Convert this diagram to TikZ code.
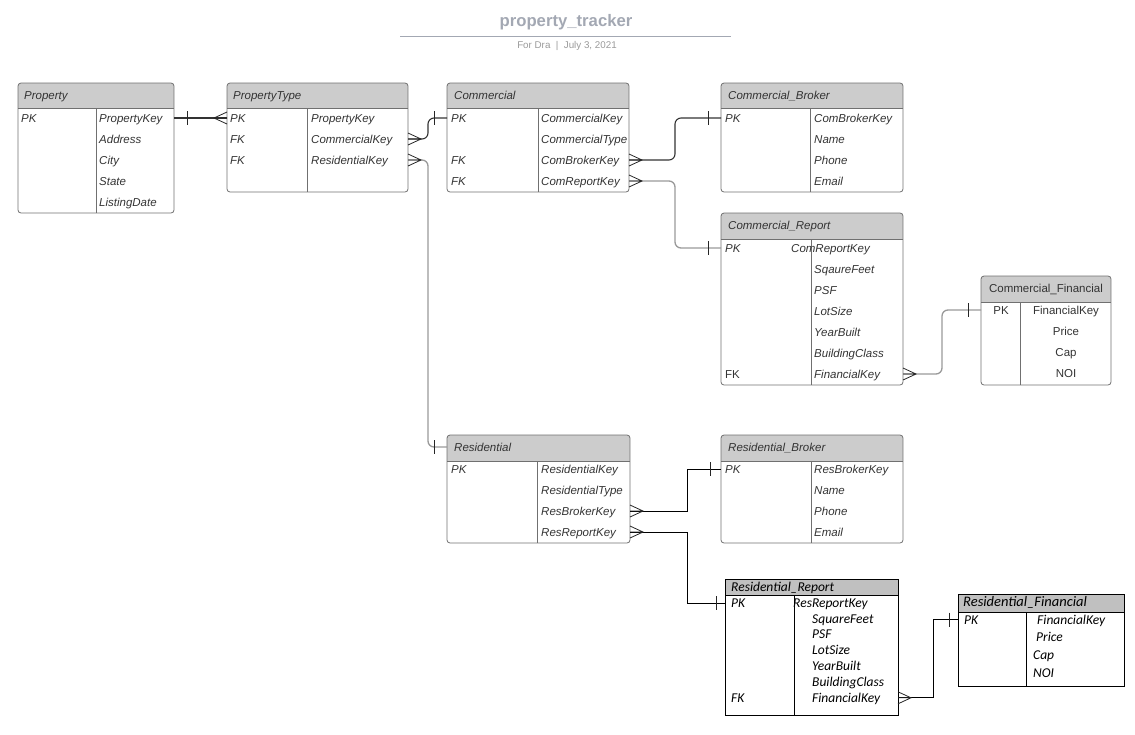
\documentclass[tikz,border=0pt]{standalone}
\usepackage{fontspec}
\setmainfont{Liberation Sans}
\newfontfamily\calfont{Carlito}
\usetikzlibrary{calc}

\definecolor{boxgray}{HTML}{707070}
\definecolor{hdrlucid}{HTML}{CCCCCC}
\definecolor{hdrplain}{HTML}{C0C0C0}
\definecolor{txtgray}{HTML}{333333}
\definecolor{titlegray}{HTML}{A3A8B3}
\definecolor{subgray}{HTML}{9A9A9A}

% one table: style, name, top left, width, height, header height, divider offset, header colour
\newcommand{\ertable}[8]{%
  \node[tblbase, minimum width=#4pt, minimum height=#5pt] (#2) at #3 {};
  \begin{scope}
    \clip[#1clip] (#2.north west) rectangle (#2.south east);
    \fill[#8] (#2.north west) rectangle ([yshift=-#6pt]#2.north east);
  \end{scope}
  \draw[#1] ([yshift=-#6pt]#2.north west) -- ([yshift=-#6pt]#2.north east);
  \draw[#1] ([shift={(#7pt,-#6pt)}]#2.north west) -- ([xshift=#7pt]#2.south west);
  \draw[#1] (#2.north west) rectangle (#2.south east);
}

\begin{document}
\begin{tikzpicture}[x=1pt,y=-1pt]
  \tikzset{tblbase/.style={rectangle, anchor=north west, inner sep=0pt, outer sep=0pt}}
  \tikzset{lucid/.style={draw=boxgray, line width=0.8pt, rounded corners=3pt}}
  \tikzset{lucidclip/.style={rounded corners=3pt}}
  \tikzset{plain/.style={draw=black, line width=0.8pt}}
  \tikzset{plainclip/.style={sharp corners}}
  \tikzset{fld/.style={font={\fontsize{11.5}{13}\selectfont\itshape}, text=txtgray, anchor=west, inner sep=0pt, text height=8.2pt, text depth=0pt}}
  \tikzset{upfld/.style={fld, font={\fontsize{11.5}{13}\selectfont}}}
  \tikzset{cfld/.style={fld, text=black, text height=8.7pt, font={\calfont\itshape\fontsize{13.5}{15}\selectfont}}}
  \tikzset{rel/.style={draw=black!80, line width=1.1pt, rounded corners=6pt}}
  \tikzset{relgray/.style={rel, draw=black!40, line width=1.3pt}}
  \tikzset{relsharp/.style={draw=black, line width=1pt}}
  \tikzset{pics/crowfoot/.style={code={\draw[black!85, line width=0.8pt] (0,-6) -- (13,0) -- (0,6) (0,0) -- (13,0);}}}
  \tikzset{pics/onebar/.style={code={\draw[black!85, line width=0.8pt] (0,-7) -- (0,7);}}}
  \useasboundingbox (0,0) rectangle (1135,734);

  % title
  \node[font={\fontsize{16.7}{18}\selectfont\bfseries}, text=titlegray] (title) at (566,22) {property\_tracker};
  \draw[titlegray, line width=0.8pt] (400,36) -- (731,36);
  \node[font={\fontsize{9.8}{11}\selectfont}, text=subgray] (sub) at (567,46) {For Dra \;|\; July 3, 2021};

  % tables
  \ertable{lucid}{prop}{(18,83)}{156}{130}{25}{78}{hdrlucid}
  \ertable{lucid}{ptype}{(227,83)}{181}{109}{25}{80}{hdrlucid}
  \ertable{lucid}{com}{(447,83)}{182}{109}{25}{91}{hdrlucid}
  \ertable{lucid}{cbrk}{(721,83)}{182}{109}{25}{89}{hdrlucid}
  \ertable{lucid}{crep}{(721,213)}{182}{172}{26}{90}{hdrlucid}
  \ertable{lucid}{cfin}{(981,276)}{130}{109}{26}{39}{hdrlucid}
  \ertable{lucid}{res}{(447,435)}{183}{108}{26}{90}{hdrlucid}
  \ertable{lucid}{rbrk}{(721,435)}{182}{108}{26}{90}{hdrlucid}
  \ertable{plain}{rrep}{(725,579)}{173}{136}{16}{69}{hdrplain}
  \ertable{plain}{rfin}{(958,594)}{166}{92}{18}{68}{hdrplain}

  % Property
  \node[fld] (prop-t) at (24,95) {Property};
  \node[fld] (prop-pk) at (21,118) {PK};
  \foreach \f [count=\i] in {PropertyKey,Address,City,State,ListingDate}
    \node[fld] (prop-\i) at (99,97+21*\i) {\f};

  % PropertyType
  \node[fld] (ptype-t) at (233,95) {PropertyType};
  \node[fld] (ptype-pk) at (230,118) {PK};
  \node[fld] (ptype-fk1) at (230,139) {FK};
  \node[fld] (ptype-fk2) at (230,160) {FK};
  \foreach \f [count=\i] in {PropertyKey,CommercialKey,ResidentialKey}
    \node[fld] (ptype-\i) at (311,97+21*\i) {\f};

  % Commercial
  \node[fld] (com-t) at (454,95) {Commercial};
  \node[fld] (com-pk) at (451,118) {PK};
  \node[fld] (com-fk1) at (451,160) {FK};
  \node[fld] (com-fk2) at (451,181) {FK};
  \foreach \f [count=\i] in {CommercialKey,CommercialType,ComBrokerKey,ComReportKey}
    \node[fld] (com-\i) at (541,97+21*\i) {\f};

  % Commercial_Broker
  \node[fld] (cbrk-t) at (728,95) {Commercial\_Broker};
  \node[fld] (cbrk-pk) at (725,118) {PK};
  \foreach \f [count=\i] in {ComBrokerKey,Name,Phone,Email}
    \node[fld] (cbrk-\i) at (814,97+21*\i) {\f};

  % Commercial_Report
  \node[fld] (crep-t) at (728,225) {Commercial\_Report};
  \node[fld] (crep-pk) at (725,248) {PK};
  \node[upfld] (crep-fk) at (725,374) {FK};
  \node[fld] (crep-1) at (791,248) {ComReportKey};
  \foreach \f [count=\i from 2] in {SqaureFeet,PSF,LotSize,YearBuilt,BuildingClass,FinancialKey}
    \node[fld] (crep-\i) at (814,227+21*\i) {\f};

  % Commercial_Financial
  \node[upfld, anchor=center] (cfin-t) at (1046,288) {Commercial\_Financial};
  \node[upfld, anchor=center] (cfin-pk) at (1001,310) {PK};
  \foreach \f [count=\i] in {FinancialKey,Price,Cap,NOI}
    \node[upfld, anchor=center] (cfin-\i) at (1066,289+21*\i) {\f};

  % Residential
  \node[fld] (res-t) at (454,447) {Residential};
  \node[fld] (res-pk) at (451,469) {PK};
  \foreach \f [count=\i] in {ResidentialKey,ResidentialType,ResBrokerKey,ResReportKey}
    \node[fld] (res-\i) at (541,448+21*\i) {\f};

  % Residential_Broker
  \node[fld] (rbrk-t) at (728,447) {Residential\_Broker};
  \node[fld] (rbrk-pk) at (725,469) {PK};
  \foreach \f [count=\i] in {ResBrokerKey,Name,Phone,Email}
    \node[fld] (rbrk-\i) at (814,448+21*\i) {\f};

  % Residential_Report
  \node[cfld] (rrep-t) at (731,587) {Residential\_Report};
  \node[cfld] (rrep-pk) at (731,603) {PK};
  \node[cfld] (rrep-fk) at (731,698) {FK};
  \node[cfld] (rrep-1) at (793,603) {ResReportKey};
  \foreach \f [count=\i from 2] in {SquareFeet,PSF,LotSize,YearBuilt,BuildingClass,FinancialKey}
    \node[cfld] (rrep-\i) at (812,603+15.8*\i-15.8) {\f};

  % Residential_Financial
  \node[cfld, font={\calfont\itshape\fontsize{14.5}{16}\selectfont}] (rfin-t) at (963,602) {Residential\_Financial};
  \node[cfld] (rfin-pk) at (964,620) {PK};
  \foreach \f/\x [count=\i] in {FinancialKey/1037,Price/1036,Cap/1033,NOI/1033}
    \node[cfld] (rfin-\i) at (\x,602+17.7*\i) {\f};

  % relations
  \draw[rel] (prop.east |- prop-1) -- (ptype.west |- prop-1);
  \pic[xshift=13pt] at (prop.east |- prop-1) {onebar};
  \pic[rotate=180] at (ptype.west |- prop-1) {crowfoot};

  \draw[rel] (ptype.east |- ptype-2) -- ++(20,0) |- (com.west |- com-1);
  \pic at (ptype.east |- ptype-2) {crowfoot};
  \pic[xshift=-13pt] at (com.west |- com-1) {onebar};

  \draw[relgray] (ptype.east |- ptype-3) -- ++(20,0) |- (res.west |- res-t);
  \pic at (ptype.east |- ptype-3) {crowfoot};
  \pic[xshift=-13pt] at (res.west |- res-t) {onebar};

  \draw[rel] (com.east |- com-3) -- ++(46,0) |- (cbrk.west |- cbrk-1);
  \pic at (com.east |- com-3) {crowfoot};
  \pic[xshift=-13pt] at (cbrk.west |- cbrk-1) {onebar};

  \draw[relgray] (com.east |- com-4) -- ++(46,0) |- (crep.west |- crep-1);
  \pic at (com.east |- com-4) {crowfoot};
  \pic[xshift=-13pt] at (crep.west |- crep-1) {onebar};

  \draw[relgray] (crep.east |- crep-7) -- ++(39,0) |- (cfin.west |- cfin-1);
  \pic at (crep.east |- crep-7) {crowfoot};
  \pic[xshift=-13pt] at (cfin.west |- cfin-1) {onebar};

  \draw[relsharp] (res.east |- res-3) -- ++(57,0) |- (rbrk.west |- rbrk-1);
  \pic at (res.east |- res-3) {crowfoot};
  \pic[xshift=-11pt] at (rbrk.west |- rbrk-1) {onebar};

  \draw[relsharp] (res.east |- res-4) -- ++(57,0) |- (rrep.west |- rrep-1);
  \pic at (res.east |- res-4) {crowfoot};
  \pic[xshift=-9pt] at (rrep.west |- rrep-1) {onebar};

  \draw[relsharp] (rrep.east |- rrep-7) -- ++(35,0) |- (rfin.west |- rfin-1);
  \pic at (rrep.east |- rrep-7) {crowfoot};
  \pic[xshift=-9pt] at (rfin.west |- rfin-1) {onebar};
\end{tikzpicture}
\end{document}
